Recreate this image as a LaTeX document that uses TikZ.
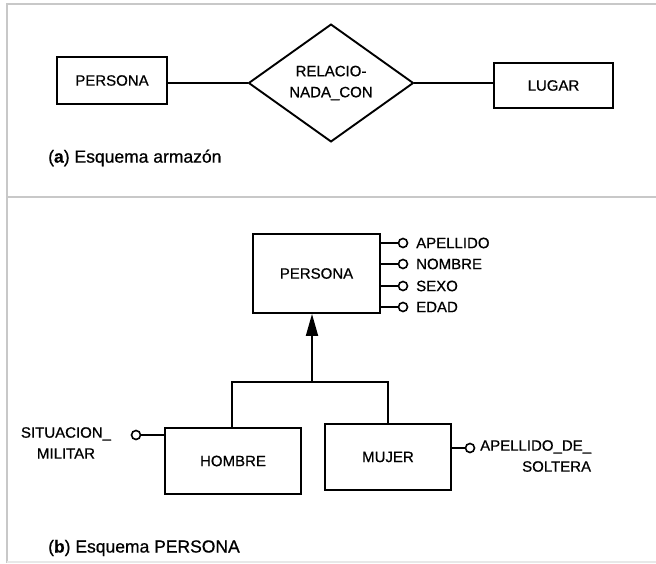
\documentclass[tikz,border=0pt]{standalone}
\usepackage{fontspec}
\setmainfont{Liberation Sans}
\newfontfamily\heavy{Liberation Sans}[FakeBold=0.7]
\usetikzlibrary{shapes.geometric,arrows.meta}
\definecolor{rule}{RGB}{200,200,200}
\definecolor{faint}{RGB}{232,232,232}
\begin{document}
\begin{tikzpicture}[x=1pt,y=-1pt,
  txt/.style={font=\heavy\fontsize{15}{21}\selectfont},
  ent/.style={draw, line width=1.9pt, inner sep=0pt, txt},
  rel/.style={draw, diamond, line width=1.9pt, inner sep=0pt, align=center,
    minimum width=165pt, minimum height=76pt, txt},
  conn/.style={line width=1.9pt},
  attr/.style={circle, draw, line width=1.6pt, minimum size=9pt, inner sep=0pt},
  lbl/.style={inner sep=0pt, txt},
  caption/.style={inner sep=0pt, anchor=west, font=\heavy\fontsize{17.5}{20}\selectfont},
]
\useasboundingbox (0,0) rectangle (656,563);

% panel frame
\draw[rule, line width=2pt] (656,4) -- (7,4) -- (7,563);
\draw[rule, line width=2pt] (7,197) -- (656,197);
\draw[faint, line width=1.5pt] (7,562) -- (656,562);

% ---------- (a) skeleton schema ----------
\node[ent, minimum width=110pt, minimum height=47pt] (pa) at (112,80.5) {PERSONA};
\node[rel] (rc) at (331,83) {RELACIO-\\NADA\_CON};
\node[ent, minimum width=119pt, minimum height=45pt] (lu) at (553.5,85.5) {LUGAR};
\draw[conn] (rc.west) -- (rc.west -| pa.east);
\draw[conn] (rc.east) -- (rc.east -| lu.west);
\node[caption] (capa) at (48,158) {(\textbf{a}) Esquema armazón};

% ---------- (b) PERSONA schema ----------
\node[ent, minimum width=127pt, minimum height=79pt] (pb) at (316.5,273.5) {PERSONA};

% attributes of PERSONA
\foreach \y/\name/\t in {243/ap/APELLIDO, 264/no/NOMBRE, 286/se/SEXO, 307/ed/EDAD}{
  \node[attr] (c\name) at (403,\y) {};
  \node[lbl, anchor=west] (l\name) at (416,\y) {\t};
  \draw[conn] (c\name.west) -- (c\name.west -| pb.east);
}

% subclasses
\node[ent, minimum width=136pt, minimum height=66pt] (ho) at (233,461) {HOMBRE};
\node[ent, minimum width=126pt, minimum height=66pt] (mu) at (388,457) {MUJER};

\coordinate (jl) at (232,382);
\coordinate (jr) at (388,382);
\coordinate (jm) at (312,382);
\draw[conn] (jl |- ho.north) -- (jl) -- (jr) -- (jr |- mu.north);
\draw[conn, -{Triangle[length=22pt,width=12pt]}] (jm) -- (jm |- pb.south);

% attribute of HOMBRE
\node[attr] (csm) at (136,435) {};
\draw[conn] (csm.east) -- (csm.east -| ho.west);
\node[lbl, align=center, anchor=north] (lsm) at (66,427) {SITUACION\_\\MILITAR};

% attribute of MUJER
\node[attr] (cad) at (470,448) {};
\draw[conn] (cad.west) -- (cad.west -| mu.east);
\node[lbl, align=right, anchor=north west] (lad) at (480,440) {APELLIDO\_DE\_\\SOLTERA};

\node[caption] (capb) at (48,548) {(\textbf{b}) Esquema PERSONA};
\end{tikzpicture}
\end{document}
